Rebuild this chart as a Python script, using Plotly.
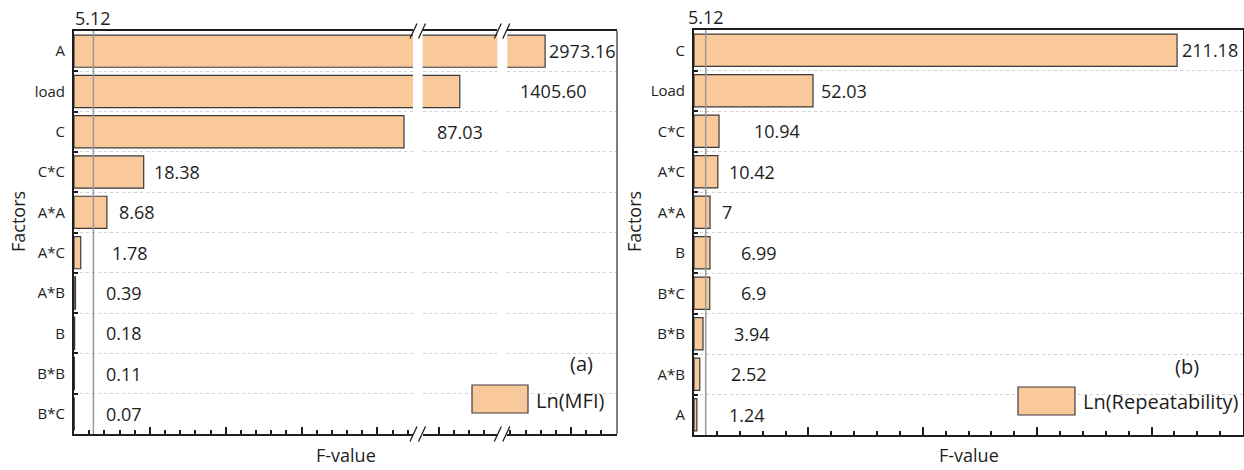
import plotly.graph_objects as go

# ---- data -------------------------------------------------------------
mfi_factors = ["A", "load", "C", "C*C", "A*A", "A*C", "A*B", "B", "B*B", "B*C"]
mfi_values = [2973.16, 1405.60, 87.03, 18.38, 8.68, 1.78, 0.39, 0.18, 0.11, 0.07]
mfi_labels = ["2973.16", "1405.60", "87.03", "18.38", "8.68", "1.78", "0.39", "0.18", "0.11", "0.07"]

rep_factors = ["C", "Load", "C*C", "A*C", "A*A", "B", "B*C", "B*B", "A*B", "A"]
rep_values = [211.18, 52.03, 10.94, 10.42, 7, 6.99, 6.9, 3.94, 2.52, 1.24]
rep_labels = ["211.18", "52.03", "10.94", "10.42", "7", "6.99", "6.9", "3.94", "2.52", "1.24"]

f_crit = 5.12
series_a = "Ln(MFI)"
series_b = "Ln(Repeatability)"

# ---- styling ----------------------------------------------------------
W, H = 1244, 470
FONT = "Open Sans"
BAR = "#F9C89B"
EDGE = "#3a3a3a"
INK = "#1e1e1e"


def px(x):
    return x / W


def py(y):
    return 1 - y / H


# broken x axis of panel (a): three pieces
seg_px = [(74, 413), (422.7, 497.3), (507.3, 617)]
seg_rng = [(0, 89.4), (1395.8, 1415.5), (2963.2, 2992.1)]
ya_px = (31, 434)
right_px = (694, 1243)
yb_px = (30, 435)

fig = go.Figure()

axis_names = ["x", "x2", "x3"]
for ax in axis_names:
    fig.add_trace(go.Bar(
        x=mfi_values, y=mfi_factors, orientation="h", xaxis=ax, yaxis="y",
        width=0.8, marker=dict(color=BAR, line=dict(color=EDGE, width=1.2)),
        name=series_a, showlegend=False, hoverinfo="x+y",
    ))

fig.add_trace(go.Bar(
    x=rep_values, y=rep_factors, orientation="h", xaxis="x4", yaxis="y2",
    width=0.8, marker=dict(color=BAR, line=dict(color=EDGE, width=1.2)),
    name=series_b, showlegend=False, hoverinfo="x+y",
))

xcommon = dict(showline=True, mirror=True, linecolor=INK, linewidth=2,
               showgrid=False, zeroline=False, showticklabels=False,
               ticks="inside", tickcolor=INK, tickwidth=1.5)

layout = dict(
    width=W, height=H, margin=dict(l=0, r=0, t=0, b=0),
    paper_bgcolor="white", plot_bgcolor="white",
    font=dict(family=FONT, color=INK),
    bargap=0.2,
)

for i, ax in enumerate(axis_names):
    key = "xaxis" if i == 0 else f"xaxis{i + 1}"
    layout[key] = dict(
        xcommon, domain=[px(seg_px[i][0]), px(seg_px[i][1])],
        range=list(seg_rng[i]), anchor="y",
        tick0=0, dtick=20, ticklen=7,
        minor=dict(ticks="inside", dtick=4, ticklen=4, tickcolor=INK, showgrid=False),
    )

layout["xaxis4"] = dict(
    xcommon, domain=[px(right_px[0]), px(right_px[1])], range=[0, 240],
    anchor="y2", tick0=0, dtick=50, ticklen=8,
    minor=dict(ticks="inside", dtick=10, ticklen=4, tickcolor=INK, showgrid=False),
)

ycommon = dict(type="category", autorange="reversed", tickson="boundaries",
               ticks="inside", ticklen=4, tickcolor=INK, tickwidth=1.5,
               showline=True, linecolor=INK, linewidth=2,
               showgrid=True, gridcolor="#cfcfcf", griddash="dot", gridwidth=1,
               tickfont=dict(family=FONT, size=15, color=INK),
               ticklabelstandoff=4, zeroline=False)

layout["yaxis"] = dict(ycommon, domain=[py(ya_px[1]), py(ya_px[0])],
                       anchor="x", categoryorder="array", categoryarray=mfi_factors)
layout["yaxis2"] = dict(ycommon, domain=[py(yb_px[1]), py(yb_px[0])],
                        anchor="x4", mirror=True,
                        categoryorder="array", categoryarray=rep_factors)

fig.update_layout(**layout)

# ---- reference line at the critical F-value ----------------------------
shapes = [
    dict(type="line", xref="x", yref="y domain", x0=f_crit, x1=f_crit, y0=0, y1=1,
         line=dict(color="#9a9a9a", width=1.5), layer="above"),
    dict(type="line", xref="x4", yref="y2 domain", x0=f_crit, x1=f_crit, y0=0, y1=1,
         line=dict(color="#9a9a9a", width=1.5), layer="above"),
    # right border of panel (a)
    dict(type="line", xref="paper", yref="paper", x0=px(617), x1=px(617),
         y0=py(ya_px[0]), y1=py(ya_px[1]), line=dict(color="#555555", width=1.5)),
]

# axis-break marks (//) at top and bottom of panel (a)
for gap_left in (seg_px[0][1], seg_px[1][1]):
    for ybase in ya_px:
        for dx in (-4.5, 4.0):
            xc = gap_left + 5 + dx
            shapes.append(dict(type="line", xref="paper", yref="paper",
                               x0=px(xc - 3.5), y0=py(ybase + 7.5),
                               x1=px(xc + 3.5), y1=py(ybase - 7.5),
                               line=dict(color=INK, width=1.3)))

# legend swatches
shapes.append(dict(type="rect", xref="paper", yref="paper",
                   x0=px(472), x1=px(528), y0=py(413), y1=py(385),
                   fillcolor=BAR, line=dict(color=EDGE, width=1.2)))
shapes.append(dict(type="rect", xref="paper", yref="paper",
                   x0=px(1018), x1=px(1075), y0=py(415), y1=py(387),
                   fillcolor=BAR, line=dict(color=EDGE, width=1.2)))
fig.update_layout(shapes=shapes)

# ---- text --------------------------------------------------------------
ann = []
value_font = dict(family=FONT, size=18, color=INK)

# value labels for panel (a): which axis piece the bar ends in, and offset
mfi_axis = ["x3", "x2", "x", "x", "x", "x", "x", "x", "x", "x"]
mfi_shift = [2, 58, 31, 8, 10, 29, 29, 29, 30, 30]
for f, v, t, ax, s in zip(mfi_factors, mfi_values, mfi_labels, mfi_axis, mfi_shift):
    ann.append(dict(xref=ax, yref="y", x=v, y=f, text=t, showarrow=False,
                    xanchor="left", yanchor="middle", xshift=s, font=value_font))

rep_shift = [3, 6, 33, 9, 10, 29, 29, 29, 29, 30]
for f, v, t, s in zip(rep_factors, rep_values, rep_labels, rep_shift):
    ann.append(dict(xref="x4", yref="y2", x=v, y=f, text=t, showarrow=False,
                    xanchor="left", yanchor="middle", xshift=s, font=value_font))

# critical value captions
ann.append(dict(xref="x", yref="paper", x=f_crit, y=py(ya_px[0]) - 0.002, text=f"{f_crit:.2f}",
                showarrow=False, xanchor="center", yanchor="bottom", font=value_font))
ann.append(dict(xref="x4", yref="paper", x=f_crit, y=py(yb_px[0]) - 0.002, text=f"{f_crit:.2f}",
                showarrow=False, xanchor="center", yanchor="bottom", font=value_font))


def centered(x, y, text, font, **kw):
    return dict(xref="paper", yref="paper", x=px(x), y=py(y), text=text,
                showarrow=False, xanchor="center", yanchor="middle", font=font, **kw)


# axis titles
title_font = dict(family=FONT, size=18, color=INK)
ann.append(dict(xref="paper", yref="paper", x=px(346), y=0.002, text="F-value",
                showarrow=False, xanchor="center", yanchor="bottom", font=title_font))
ann.append(dict(xref="paper", yref="paper", x=px(969), y=0.002, text="F-value",
                showarrow=False, xanchor="center", yanchor="bottom", font=title_font))
ann.append(centered(18, 222, "Factors", title_font, textangle=-90))
ann.append(centered(634, 222, "Factors", title_font, textangle=-90))

# legends and panel tags
leg_font = dict(family=FONT, size=20, color=INK)
ann.append(dict(xref="paper", yref="paper", x=px(534), y=py(400), text=series_a,
                showarrow=False, xanchor="left", yanchor="middle", font=leg_font))
ann.append(dict(xref="paper", yref="paper", x=px(1081), y=py(401), text=series_b,
                showarrow=False, xanchor="left", yanchor="middle", font=leg_font))
ann.append(centered(581, 363, "(a)", leg_font))
ann.append(centered(1187, 366, "(b)", leg_font))

fig.update_layout(annotations=ann)

fig.write_html("out.html")
